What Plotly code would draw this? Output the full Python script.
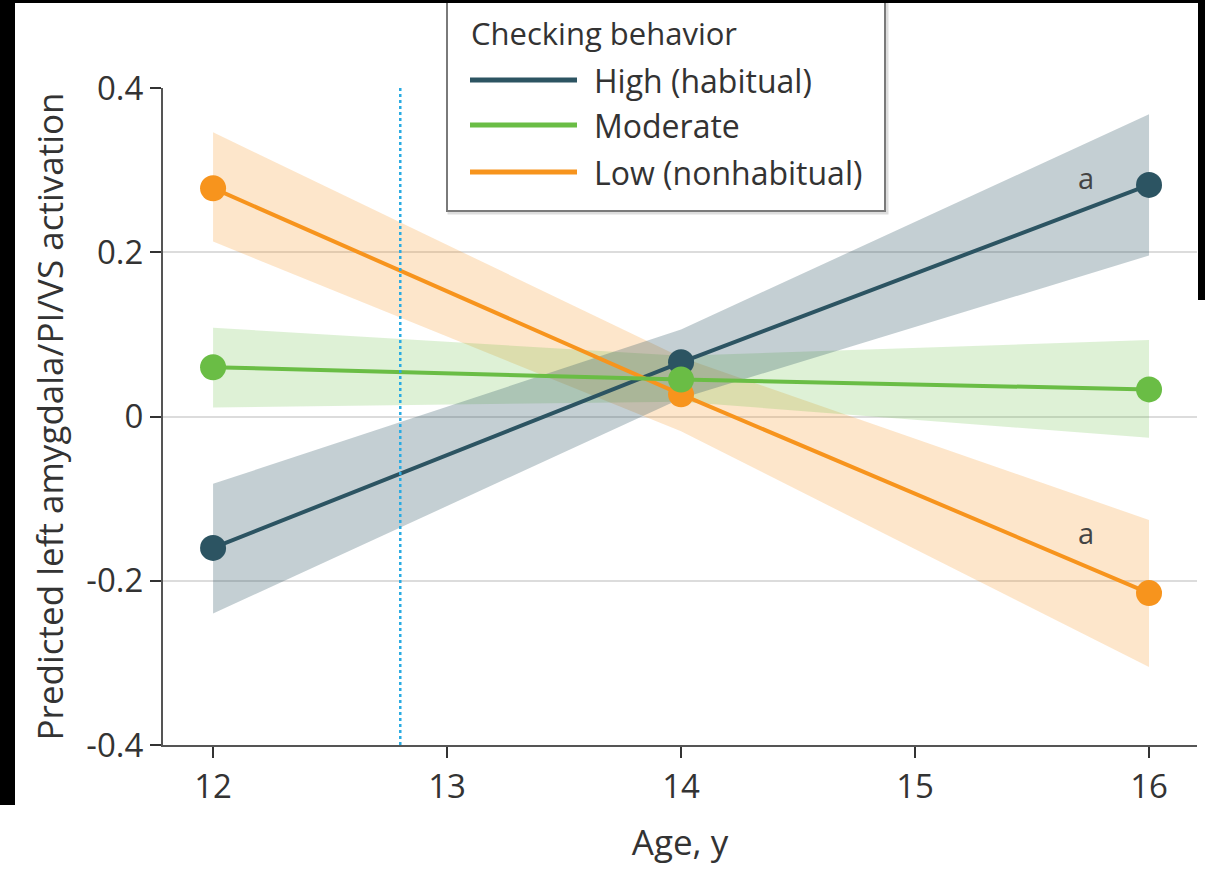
import plotly.graph_objects as go

# ---- data ----
ages = [12, 14, 16]
series_names = ["High (habitual)", "Moderate", "Low (nonhabitual)"]
high_mean = [-0.160, 0.066, 0.282]
high_lo = [-0.240, 0.022, 0.196]
high_hi = [-0.082, 0.106, 0.368]
mod_mean = [0.060, 0.045, 0.033]
mod_lo = [0.011, 0.018, -0.026]
mod_hi = [0.108, 0.074, 0.093]
low_mean = [0.278, 0.027, -0.215]
low_lo = [0.213, -0.018, -0.305]
low_hi = [0.346, 0.072, -0.126]
ref_age = 12.8
sig_label = "a"
sig_x = 15.73
sig_y = [0.291, -0.141]
y_ticks = [-0.4, -0.2, 0, 0.2, 0.4]
y_ticktext = ["-0.4", "-0.2", "0", "0.2", "0.4"]
x_ticks = [12, 13, 14, 15, 16]

colors = ["#2c5462", "#6abd45", "#f7941d"]
band_colors = ["rgba(44,84,98,0.28)", "rgba(106,189,69,0.22)", "rgba(247,148,29,0.23)"]

W, H = 1205, 883
L, R, T, B = 163, 8, 88, 138
pw, ph = W - L - R, H - T - B


def px(xp):
    return (xp - L) / pw


def py(yp):
    return (H - B - yp) / ph


FONT = "Open Sans"
TXT = "#333333"

fig = go.Figure()

means = [high_mean, mod_mean, low_mean]
los = [high_lo, mod_lo, low_lo]
his = [high_hi, mod_hi, low_hi]

# bands
for i in [2, 1, 0]:
    fig.add_trace(go.Scatter(
        x=ages + ages[::-1], y=his[i] + los[i][::-1],
        fill="toself", fillcolor=band_colors[i], line=dict(width=0),
        mode="lines", hoverinfo="skip", showlegend=False))

# lines and markers
for i in [0, 2, 1]:
    fig.add_trace(go.Scatter(
        x=ages, y=means[i], mode="lines+markers", name=series_names[i],
        line=dict(color=colors[i], width=4),
        marker=dict(color=colors[i], size=26), showlegend=False))

# dotted reference line
fig.add_trace(go.Scatter(
    x=[ref_age, ref_age], y=[y_ticks[0], y_ticks[-1]], mode="lines",
    line=dict(color="#29abe2", width=2.5, dash="dot"),
    hoverinfo="skip", showlegend=False))

shapes = []
annotations = []

# legend frame (top edge off-canvas)
shapes.append(dict(type="rect", xref="paper", yref="paper",
                   x0=px(449), x1=px(887), y0=py(213), y1=py(-20),
                   line=dict(color="#dddddd", width=3), fillcolor="rgba(0,0,0,0)", layer="above"))
shapes.append(dict(type="rect", xref="paper", yref="paper",
                   x0=px(447), x1=px(885), y0=py(211), y1=py(-20),
                   line=dict(color="#7a7a7a", width=2), fillcolor="white", layer="above"))
annotations.append(dict(xref="paper", yref="paper", x=px(469), y=py(33),
                        xanchor="left", yanchor="middle", showarrow=False,
                        text="Checking behavior", font=dict(family=FONT, size=31, color=TXT)))
for k, yy in enumerate([80, 125, 172]):
    shapes.append(dict(type="line", xref="paper", yref="paper",
                       x0=px(470), x1=px(577), y0=py(yy), y1=py(yy),
                       line=dict(color=colors[k], width=5), layer="above"))
    annotations.append(dict(xref="paper", yref="paper", x=px(592), y=py(yy),
                            xanchor="left", yanchor="middle", showarrow=False,
                            text=series_names[k], font=dict(family=FONT, size=32, color=TXT)))

for sy in sig_y:
    annotations.append(dict(x=sig_x, y=sy, xref="x", yref="y", showarrow=False,
                            text=sig_label, font=dict(family=FONT, size=29, color="#444444")))

# black screenshot borders
shapes.append(dict(type="rect", xref="paper", yref="paper", x0=px(-5), x1=px(15), y0=py(805), y1=py(-5),
                   fillcolor="black", line=dict(width=0), layer="above"))
shapes.append(dict(type="rect", xref="paper", yref="paper", x0=px(-5), x1=px(W + 5), y0=py(3), y1=py(-5),
                   fillcolor="black", line=dict(width=0), layer="above"))
shapes.append(dict(type="rect", xref="paper", yref="paper", x0=px(1198), x1=px(W + 5), y0=py(300), y1=py(-5),
                   fillcolor="black", line=dict(width=0), layer="above"))

fig.update_layout(
    width=W, height=H,
    margin=dict(l=L, r=R, t=T, b=B),
    paper_bgcolor="white", plot_bgcolor="white",
    shapes=shapes, annotations=annotations,
    font=dict(family=FONT, color=TXT),
    xaxis=dict(range=[11.786, 16.205], tickvals=x_ticks, showgrid=False,
               showline=True, linecolor="#555555", linewidth=2,
               ticks="outside", ticklen=11, tickwidth=2, tickcolor="#333333",
               tickfont=dict(family=FONT, size=33, color=TXT),
               title=dict(text="Age, y", font=dict(family=FONT, size=35, color=TXT), standoff=24),
               zeroline=False),
    yaxis=dict(range=[-0.4, 0.4], tickvals=y_ticks, ticktext=y_ticktext,
               showgrid=True, gridcolor="#dcdcdc", gridwidth=2,
               showline=True, linecolor="#555555", linewidth=2,
               ticks="outside", ticklen=11, tickwidth=2, tickcolor="#333333",
               tickfont=dict(family=FONT, size=33, color=TXT),
               title=dict(text="Predicted left amygdala/PI/VS activation",
                          font=dict(family=FONT, size=35, color=TXT), standoff=12),
               zeroline=False),
)

fig.write_html("out.html", config={"displayModeBar": False},
               post_script="document.body.style.margin='0';document.body.style.padding='0';")
